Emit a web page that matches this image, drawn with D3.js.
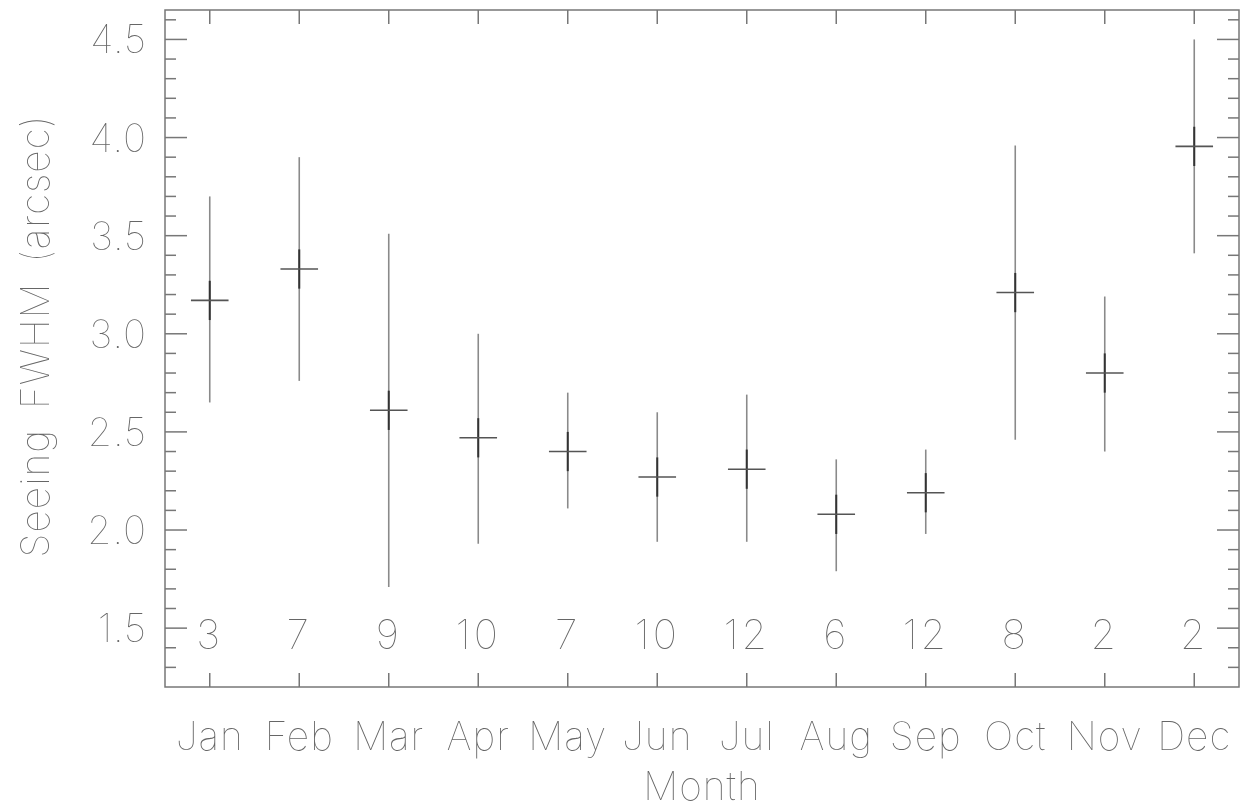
<!DOCTYPE html>
<html>
<head>
<meta charset="utf-8">
<script src="https://cdn.jsdelivr.net/npm/d3@7"></script>
<style>
  html, body { margin: 0; padding: 0; background: #fff; }
  svg { display: block; filter: grayscale(100%); }
  text { font-family: "Inter", "Roboto", "Lato", sans-serif; font-weight: 100; fill: #666; }
</style>
</head>
<body>
<svg id="chart" width="1243" height="808"></svg>
<script>
const months = ["Jan","Feb","Mar","Apr","May","Jun","Jul","Aug","Sep","Oct","Nov","Dec"];
const meanSeeing = [3.17, 3.33, 2.61, 2.47, 2.40, 2.27, 2.31, 2.08, 2.19, 3.21, 2.80, 3.955];
const maxSeeing  = [3.70, 3.90, 3.51, 3.00, 2.70, 2.60, 2.69, 2.36, 2.41, 3.96, 3.19, 4.50];
const minSeeing  = [2.65, 2.76, 1.71, 1.93, 2.11, 1.94, 1.94, 1.79, 1.98, 2.46, 2.40, 3.41];
const errSeeing  = [0.10, 0.10, 0.10, 0.10, 0.10, 0.10, 0.10, 0.10, 0.10, 0.10, 0.10, 0.10];
const nights     = [3, 7, 9, 10, 7, 10, 12, 6, 12, 8, 2, 2];
const yMajorTicks = [1.5, 2.0, 2.5, 3.0, 3.5, 4.0, 4.5];
const yMinorTicks = [1.3,1.4,1.6,1.7,1.8,1.9,2.1,2.2,2.3,2.4,2.6,2.7,2.8,2.9,3.1,3.2,3.3,3.4,3.6,3.7,3.8,3.9,4.1,4.2,4.3,4.4,4.6];

const svg = d3.select("#chart");
const L = 165, R = 1239, T = 10, B = 687;
const axisColor = "#777";

const x = d3.scaleLinear().domain([0.5, 12.5]).range([L, R]);
const y = d3.scaleLinear().domain([1.2, 4.65]).range([B, T]);

const data = months.map((m, i) => ({m, i: i + 1, mean: meanSeeing[i], hi: maxSeeing[i], lo: minSeeing[i], err: errSeeing[i], n: nights[i]}));

// frame
svg.append("rect").attr("x", L).attr("y", T).attr("width", R - L).attr("height", B - T)
  .attr("fill", "none").attr("stroke", axisColor).attr("stroke-width", 1.5);

// y axes (left and right) with major/minor ticks pointing inward
const gAx = svg.append("g").attr("stroke", axisColor).attr("stroke-width", 1.5);
yMajorTicks.forEach(v => {
  gAx.append("line").attr("x1", L).attr("x2", L + 22).attr("y1", y(v)).attr("y2", y(v));
  gAx.append("line").attr("x1", R).attr("x2", R - 22).attr("y1", y(v)).attr("y2", y(v));
});
yMinorTicks.forEach(v => {
  gAx.append("line").attr("x1", L).attr("x2", L + 11).attr("y1", y(v)).attr("y2", y(v));
  gAx.append("line").attr("x1", R).attr("x2", R - 11).attr("y1", y(v)).attr("y2", y(v));
});
// x ticks top and bottom
data.forEach(d => {
  gAx.append("line").attr("x1", x(d.i)).attr("x2", x(d.i)).attr("y1", B).attr("y2", B - 14);
  gAx.append("line").attr("x1", x(d.i)).attr("x2", x(d.i)).attr("y1", T).attr("y2", T + 14);
});

// y tick labels
svg.append("g").selectAll("text").data(yMajorTicks).join("text")
  .attr("x", 147).attr("y", d => y(d) + 14)
  .attr("text-anchor", "end").attr("font-size", 39).attr("letter-spacing", 1)
  .text(d => d.toFixed(1));

// month labels
svg.append("g").selectAll("text").data(data).join("text")
  .attr("x", d => x(d.i)).attr("y", 750)
  .attr("text-anchor", "middle").attr("font-size", 39).attr("letter-spacing", 1)
  .text(d => d.m);

// count labels
svg.append("g").selectAll("text").data(data).join("text")
  .attr("x", d => x(d.i)).attr("y", 649)
  .attr("text-anchor", "middle").attr("font-size", 41).attr("letter-spacing", 3)
  .text(d => d.n);

// axis titles
svg.append("text").attr("x", x(6.5)).attr("y", 800).attr("text-anchor", "middle")
  .attr("font-size", 39).attr("letter-spacing", 1).text("Month");
svg.append("text").attr("transform", "translate(49, 336) rotate(-90)")
  .attr("text-anchor", "middle").attr("font-size", 39).attr("letter-spacing", 1).attr("word-spacing", 8)
  .text("Seeing FWHM (arcsec)");

// data marks
const g = svg.append("g");
data.forEach(d => {
  const cx = x(d.i);
  g.append("line").attr("x1", cx).attr("x2", cx).attr("y1", y(d.hi)).attr("y2", y(d.lo))
    .attr("stroke", "#8a8a8a").attr("stroke-width", 1.6);
  g.append("line").attr("x1", cx).attr("x2", cx).attr("y1", y(d.mean + d.err)).attr("y2", y(d.mean - d.err))
    .attr("stroke", "#333").attr("stroke-width", 2);
  g.append("line").attr("x1", x(d.i - 0.21)).attr("x2", x(d.i + 0.21)).attr("y1", y(d.mean)).attr("y2", y(d.mean))
    .attr("stroke", "#555").attr("stroke-width", 1.6);
});
</script>
</body>
</html>
